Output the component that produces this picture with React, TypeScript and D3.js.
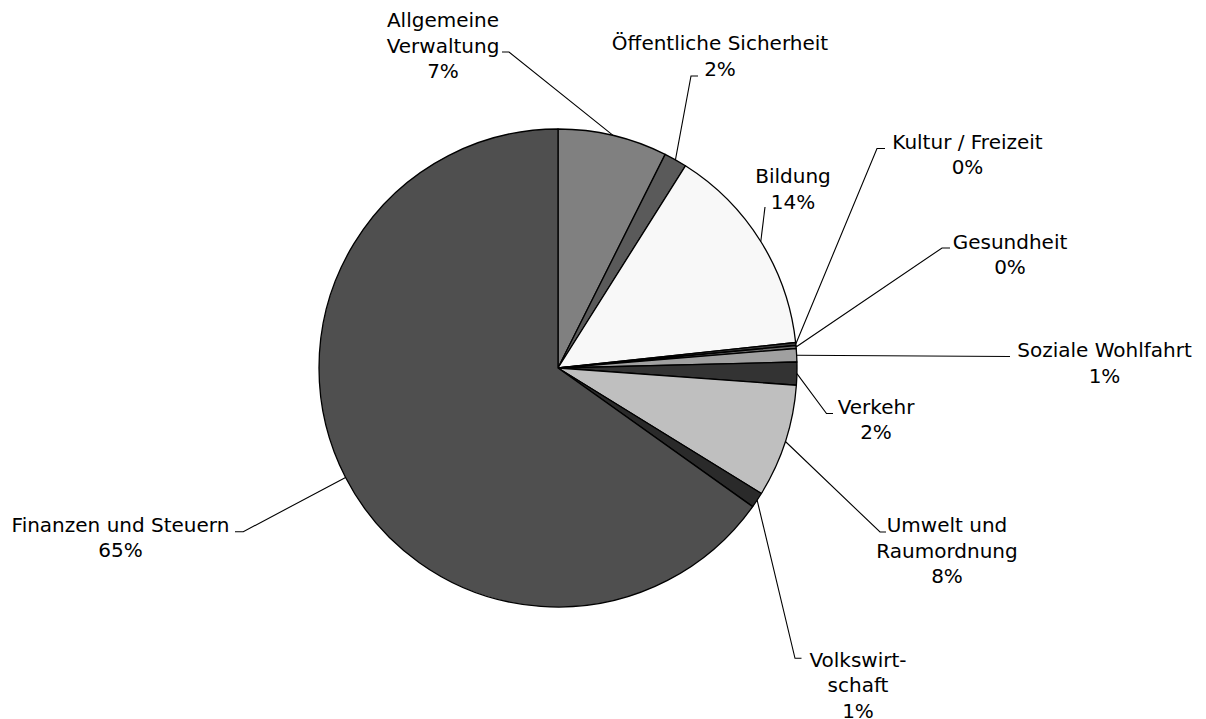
import React from "react";
import * as d3 from "d3";

const categories = [
  "Allgemeine Verwaltung",
  "Öffentliche Sicherheit",
  "Bildung",
  "Kultur / Freizeit",
  "Gesundheit",
  "Soziale Wohlfahrt",
  "Verkehr",
  "Umwelt und Raumordnung",
  "Volkswirtschaft",
  "Finanzen und Steuern",
];
const values = [7.4, 1.55, 14.35, 0.2, 0.2, 0.9, 1.55, 7.65, 1.05, 65.15];
const labelLines = [
  ["Allgemeine", "Verwaltung"],
  ["Öffentliche Sicherheit"],
  ["Bildung"],
  ["Kultur / Freizeit"],
  ["Gesundheit"],
  ["Soziale Wohlfahrt"],
  ["Verkehr"],
  ["Umwelt und", "Raumordnung"],
  ["Volkswirt-", "schaft"],
  ["Finanzen und Steuern"],
];
const colors = [
  "#808080",
  "#5a5a5a",
  "#f8f8f8",
  "#3c3c3c",
  "#6a6a6a",
  "#a0a0a0",
  "#333333",
  "#bfbfbf",
  "#2a2a2a",
  "#4f4f4f",
];

// label layout: text centre x, first baseline y, leader tick start and elbow
const labelLayout = [
  { cx: 443, y: 27, t: [502, 52], e: [509, 52] },
  { cx: 720, y: 50, t: [698, 76], e: [691, 76] },
  { cx: 793, y: 183, t: [765, 207], e: [765, 207] },
  { cx: 967.5, y: 148.5, t: [885, 148.5], e: [877, 148.5] },
  { cx: 1010, y: 248.5, t: [950, 248], e: [942, 248] },
  { cx: 1104.5, y: 357, t: [1010, 356.5], e: [1010, 356.5] },
  { cx: 876, y: 413.5, t: [833, 413.5], e: [826.5, 413.5] },
  { cx: 947, y: 532, t: [886, 532], e: [880, 532] },
  { cx: 858, y: 666.7, t: [801.5, 658.3], e: [795, 658.3] },
  { cx: 120.5, y: 531.7, t: [235, 531.7], e: [243.3, 531.7] },
];

const W = 1206;
const H = 719;
const CX = 558;
const CY = 368;
const R = 239;
const LINE_H = 25.5;

export default function App() {
  const total = d3.sum(values);
  const pie = d3
    .pie<number>()
    .sort(null)
    .value((d) => d);
  const arcs = pie(values);
  const arcGen = d3.arc<d3.PieArcDatum<number>>().innerRadius(0).outerRadius(R);
  const edgeGen = d3.arc<d3.PieArcDatum<number>>().innerRadius(R).outerRadius(R);

  return (
    <div style={{ position: "absolute", left: 0, top: 0 }}>
      <svg width={W} height={H} style={{ display: "block", background: "#fff" }}>
        <g transform={`translate(${CX},${CY})`}>
          {arcs.map((a, i) => (
            <path
              key={categories[i]}
              d={arcGen(a) || ""}
              fill={colors[i]}
              stroke="#000"
              strokeWidth={1.3}
              strokeLinejoin="round"
            />
          ))}
        </g>
        {arcs.map((a, i) => {
          const [px, py] = edgeGen.centroid(a);
          const L = labelLayout[i];
          const pts = [
            [L.t[0], L.t[1]],
            [L.e[0], L.e[1]],
            [px + CX, py + CY],
          ];
          const line = d3.line()(pts as [number, number][]) || "";
          return (
            <path key={"l" + i} d={line} fill="none" stroke="#000" strokeWidth={1.1} />
          );
        })}
        {arcs.map((a, i) => {
          const L = labelLayout[i];
          const pct = Math.round((values[i] / total) * 100) + "%";
          const lines = [...labelLines[i], pct];
          return (
            <text
              key={"t" + i}
              x={L.cx}
              y={L.y}
              textAnchor="middle"
              fontFamily="'DejaVu Sans', Verdana, sans-serif"
              fontSize={20}
              fill="#000"
            >
              {lines.map((s, j) => (
                <tspan key={j} x={L.cx} y={L.y + j * LINE_H}>
                  {s}
                </tspan>
              ))}
            </text>
          );
        })}
      </svg>
    </div>
  );
}
